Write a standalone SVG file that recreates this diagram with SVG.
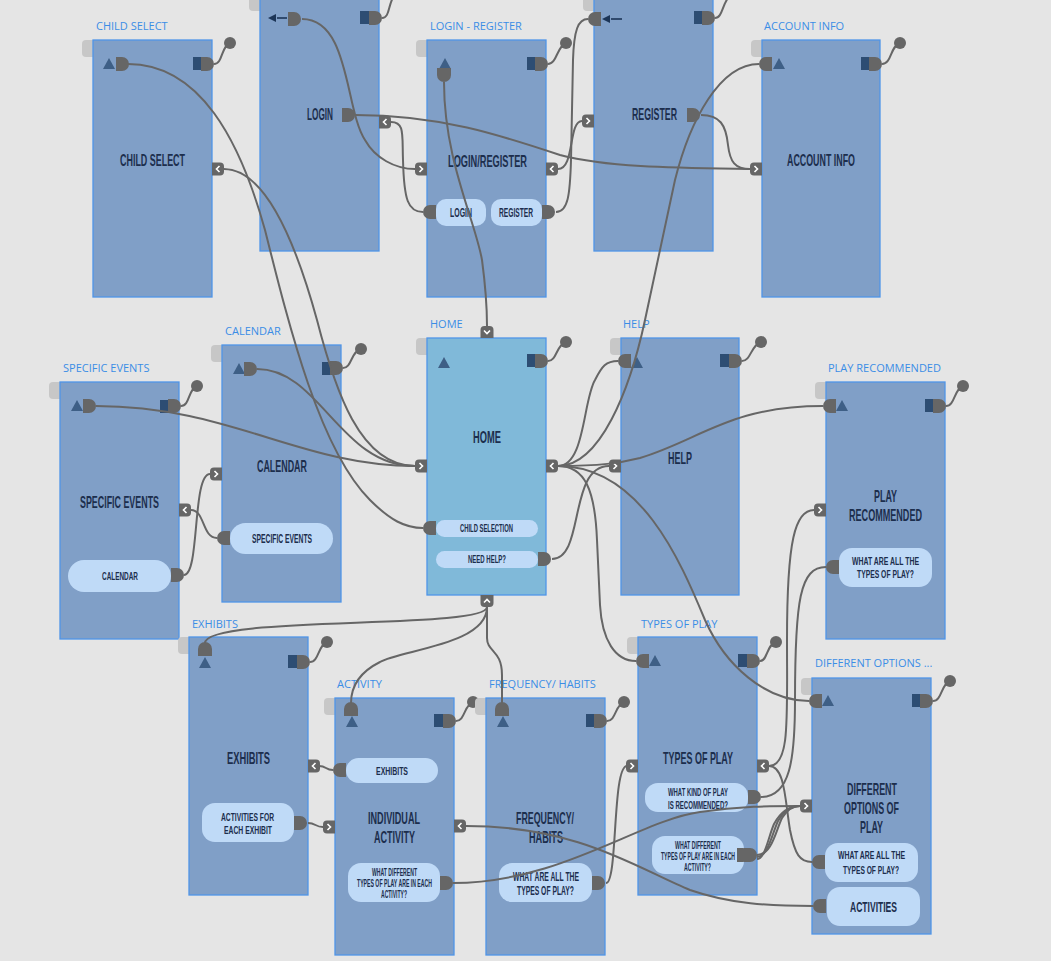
<svg xmlns="http://www.w3.org/2000/svg" xmlns:xlink="http://www.w3.org/1999/xlink" width="1051" height="961" viewBox="0 0 1051 961">
<style>
.nd{fill:#809fc7;stroke:#4f95e8;stroke-width:1.3}
.hm{fill:#80b9d9;stroke:#4f95e8;stroke-width:1.3}
.tab{fill:#c7c7c7}
.lbl{font-family:"Open Sans","Liberation Sans",sans-serif;font-size:11px;fill:#3b8de6}
.ttl{font-family:"Liberation Sans",Arial,sans-serif;font-weight:bold;font-size:16.5px;fill:#1c2e4d}
.bt{font-family:"Liberation Sans",Arial,sans-serif;font-weight:bold;fill:#1c2e4d}
.btn{fill:#bfdaf7}
.pt{fill:#666}
.tri{fill:#3e5f86}
.sq{fill:#2d4d73}
.w{fill:none;stroke:#666;stroke-width:2}
.wg{fill:none;stroke:#666;stroke-width:2}
.ar{fill:#1c3557}
.arl{stroke:#1c3557;stroke-width:1.6}
</style>
<defs>
<path id="pR" d="M0,0h6a7,7 0 0 1 0,14h-6z"/>
<path id="pL" d="M13,0h-6a7,7 0 0 0 0,14h6z"/>
<path id="pT" d="M0,14v-7a7,7 0 0 1 14,0v7z"/>
<path id="pB" d="M0,0h14v7a7,7 0 0 1 -14,0z"/>
<path id="tri" d="M0,11L6,0L12,11z"/>
<g id="inL"><path d="M12,0h-8a4,4 0 0 0 -4,4v5a4,4 0 0 0 4,4h8z" fill="#666"/><path d="M4.5,3.5l3,3l-3,3" stroke="#fff" fill="none" stroke-width="1.6"/></g>
<g id="inR"><path d="M0,0h8a4,4 0 0 1 4,4v5a4,4 0 0 1 -4,4h-8z" fill="#666"/><path d="M7.5,3.5l-3,3l3,3" stroke="#fff" fill="none" stroke-width="1.6"/></g>
<g id="inT"><path d="M0,12v-8a4,4 0 0 1 4,-4h5a4,4 0 0 1 4,4v8z" fill="#666"/><path d="M3.5,4.5l3,3l3,-3" stroke="#fff" fill="none" stroke-width="1.6"/></g>
<g id="inB"><path d="M0,0h13v8a4,4 0 0 1 -4,4h-5a4,4 0 0 1 -4,-4z" fill="#666"/><path d="M3.5,7.5l3,-3l3,3" stroke="#fff" fill="none" stroke-width="1.6"/></g>
</defs>
<rect width="1051" height="961" fill="#e5e5e5"/>

<g id="node-child-select">
<rect class="tab" x="82" y="40" width="16" height="17" rx="4"/>
<rect class="nd" x="93" y="40" width="119" height="257"/>
<text class="lbl" x="96" y="30">CHILD SELECT</text>
<use href="#tri" class="tri" x="103" y="58"/>
<use href="#pR" class="pt" x="116" y="57"/>
<rect class="sq" x="193" y="57" width="9" height="13"/>
<use href="#pR" class="pt" x="201" y="57"/>
<path class="wg" d="M214,64C223,64 221,46 230,43"/><circle class="pt" cx="230" cy="43" r="6"/>
<text class="ttl" x="120" y="166" textLength="65" lengthAdjust="spacingAndGlyphs">CHILD SELECT</text>
<use href="#inR" x="212" y="162.5"/>
</g>

<g id="node-login">
<rect class="tab" x="249" y="-6" width="16" height="17" rx="4"/>
<rect class="nd" x="260" y="-6" width="119" height="257"/>
<path class="ar" d="M268,18l8,-4v8z"/><path class="arl" d="M277,18H287"/>
<use href="#pR" class="pt" x="288" y="12"/>
<rect class="sq" x="360" y="11" width="9" height="13"/>
<use href="#pR" class="pt" x="369" y="11"/>
<path class="wg" d="M382,18C390,18 388,4 394,-4"/><circle class="pt" cx="396" cy="-8" r="6"/>
<text class="ttl" x="307" y="120" textLength="26" lengthAdjust="spacingAndGlyphs">LOGIN</text>
<use href="#pR" class="pt" x="342" y="108"/>
<use href="#inR" x="379" y="115.5"/>
</g>

<g id="node-login-register">
<rect class="tab" x="416" y="40" width="16" height="17" rx="4"/>
<rect class="nd" x="427" y="40" width="119" height="257"/>
<text class="lbl" x="430" y="30">LOGIN - REGISTER</text>
<use href="#tri" class="tri" x="439" y="58"/>
<use href="#pB" class="pt" x="437" y="68"/>
<rect class="sq" x="527" y="57" width="9" height="13"/>
<use href="#pR" class="pt" x="535" y="57"/>
<path class="wg" d="M548,64C557,64 557,46 566,43"/><circle class="pt" cx="566" cy="43" r="6"/>
<text class="ttl" x="448" y="167" textLength="79" lengthAdjust="spacingAndGlyphs">LOGIN/REGISTER</text>
<use href="#inL" x="415" y="162.5"/>
<use href="#inR" x="546" y="162.5"/>
<rect class="btn" x="436" y="199" width="50" height="27" rx="10"/>
<text class="bt" x="450" y="217" font-size="12" textLength="22" lengthAdjust="spacingAndGlyphs">LOGIN</text>
<use href="#pL" class="pt" x="423" y="205"/>
<rect class="btn" x="491" y="199" width="51" height="27" rx="10"/>
<text class="bt" x="499" y="217" font-size="12" textLength="34" lengthAdjust="spacingAndGlyphs">REGISTER</text>
<use href="#pR" class="pt" x="542" y="205"/>
</g>

<g id="node-register">
<rect class="tab" x="583" y="-6" width="16" height="17" rx="4"/>
<rect class="nd" x="594" y="-6" width="119" height="257"/>
<use href="#pL" class="pt" x="588" y="12"/>
<path class="ar" d="M602,19l8,-4v8z"/><path class="arl" d="M611,19H622"/>
<rect class="sq" x="694" y="11" width="9" height="13"/>
<use href="#pR" class="pt" x="702" y="11"/>
<path class="wg" d="M715,18C722,18 722,6 728,-2"/><circle class="pt" cx="731" cy="-7" r="6"/>
<text class="ttl" x="632" y="120" textLength="45" lengthAdjust="spacingAndGlyphs">REGISTER</text>
<use href="#pR" class="pt" x="687" y="108"/>
<use href="#inL" x="582" y="114.5"/>
</g>

<g id="node-account-info">
<rect class="tab" x="751" y="40" width="16" height="17" rx="4"/>
<rect class="nd" x="762" y="40" width="118" height="257"/>
<text class="lbl" x="764" y="30">ACCOUNT INFO</text>
<use href="#pL" class="pt" x="759" y="57"/>
<use href="#tri" class="tri" x="773" y="58"/>
<rect class="sq" x="861" y="57" width="9" height="13"/>
<use href="#pR" class="pt" x="869" y="57"/>
<path class="wg" d="M882,64C892,64 890,46 900,43"/><circle class="pt" cx="900" cy="43" r="6"/>
<text class="ttl" x="787" y="166" textLength="68" lengthAdjust="spacingAndGlyphs">ACCOUNT INFO</text>
<use href="#inL" x="750" y="162.5"/>
</g>

<g id="node-calendar">
<rect class="tab" x="211" y="345" width="16" height="17" rx="4"/>
<rect class="nd" x="222" y="345" width="119" height="257"/>
<text class="lbl" x="225" y="335">CALENDAR</text>
<use href="#tri" class="tri" x="233" y="363"/>
<use href="#pR" class="pt" x="244" y="362"/>
<rect class="sq" x="322" y="362" width="9" height="13"/>
<use href="#pR" class="pt" x="330" y="361"/>
<path class="wg" d="M343,368C352,368 351,351 361,349"/><circle class="pt" cx="361" cy="349" r="6"/>
<text class="ttl" x="257" y="472" textLength="50" lengthAdjust="spacingAndGlyphs">CALENDAR</text>
<use href="#inL" x="210" y="467.5"/>
<rect class="btn" x="230" y="523" width="103" height="31" rx="15.5"/>
<text class="bt" x="252" y="543" font-size="12" textLength="60" lengthAdjust="spacingAndGlyphs">SPECIFIC EVENTS</text>
<use href="#pL" class="pt" x="217" y="531"/>
</g>

<g id="node-specific-events">
<rect class="tab" x="49" y="382" width="16" height="17" rx="4"/>
<rect class="nd" x="60" y="382" width="119" height="257"/>
<text class="lbl" x="63" y="372">SPECIFIC EVENTS</text>
<use href="#tri" class="tri" x="71" y="400"/>
<use href="#pR" class="pt" x="83" y="399"/>
<rect class="sq" x="160" y="400" width="9" height="13"/>
<use href="#pR" class="pt" x="168" y="399"/>
<path class="wg" d="M181,406C190,406 188,389 197,386"/><circle class="pt" cx="197" cy="386" r="6"/>
<text class="ttl" x="80" y="508" textLength="79" lengthAdjust="spacingAndGlyphs">SPECIFIC EVENTS</text>
<use href="#inR" x="179" y="503.5"/>
<rect class="btn" x="68" y="560" width="103" height="32" rx="16"/>
<text class="bt" x="102" y="580" font-size="11.5" textLength="36" lengthAdjust="spacingAndGlyphs">CALENDAR</text>
<use href="#pR" class="pt" x="171" y="568"/>
</g>

<g id="node-home">
<rect class="tab" x="416" y="338" width="16" height="17" rx="4"/>
<rect class="hm" x="427" y="338" width="119" height="257"/>
<text class="lbl" x="430" y="328">HOME</text>
<use href="#tri" class="tri" x="438" y="357"/>
<rect class="sq" x="527" y="354" width="9" height="13"/>
<use href="#pR" class="pt" x="535" y="354"/>
<path class="wg" d="M548,361C557,361 556,345 566,342"/><circle class="pt" cx="566" cy="342" r="6"/>
<text class="ttl" x="473" y="443" textLength="28" lengthAdjust="spacingAndGlyphs">HOME</text>
<use href="#inT" x="480.5" y="326"/>
<use href="#inB" x="480.5" y="595"/>
<use href="#inL" x="415" y="459.5"/>
<use href="#inR" x="546" y="459.5"/>
<rect class="btn" x="436" y="520" width="102" height="17" rx="8.5"/>
<text class="bt" x="460" y="532" font-size="11" textLength="53" lengthAdjust="spacingAndGlyphs">CHILD SELECTION</text>
<use href="#pL" class="pt" x="423" y="521"/>
<rect class="btn" x="436" y="551" width="102" height="17" rx="8.5"/>
<text class="bt" x="468" y="563" font-size="11" textLength="38" lengthAdjust="spacingAndGlyphs">NEED HELP?</text>
<use href="#pR" class="pt" x="538" y="552"/>
</g>

<g id="node-help">
<rect class="tab" x="610" y="338" width="16" height="17" rx="4"/>
<rect class="nd" x="621" y="338" width="118" height="257"/>
<text class="lbl" x="623" y="328">HELP</text>
<use href="#pL" class="pt" x="618" y="354"/>
<use href="#tri" class="tri" x="631" y="357"/>
<rect class="sq" x="720" y="354" width="9" height="13"/>
<use href="#pR" class="pt" x="729" y="354"/>
<path class="wg" d="M742,361C751,361 751,345 761,342"/><circle class="pt" cx="761" cy="342" r="6"/>
<text class="ttl" x="668" y="464" textLength="24" lengthAdjust="spacingAndGlyphs">HELP</text>
<use href="#inL" x="609" y="459.5"/>
</g>

<g id="node-play-recommended">
<rect class="tab" x="815" y="382" width="16" height="17" rx="4"/>
<rect class="nd" x="826" y="382" width="119" height="257"/>
<text class="lbl" x="828" y="372">PLAY RECOMMENDED</text>
<use href="#pL" class="pt" x="823" y="399"/>
<use href="#tri" class="tri" x="836" y="400"/>
<rect class="sq" x="925" y="399" width="9" height="13"/>
<use href="#pR" class="pt" x="933" y="399"/>
<path class="wg" d="M946,406C955,406 954,389 963,386"/><circle class="pt" cx="963" cy="386" r="6"/>
<text class="ttl" x="874" y="502" textLength="23" lengthAdjust="spacingAndGlyphs">PLAY</text>
<text class="ttl" x="849" y="521" textLength="73" lengthAdjust="spacingAndGlyphs">RECOMMENDED</text>
<use href="#inL" x="814" y="503.5"/>
<rect class="btn" x="839" y="548" width="93" height="39" rx="13"/>
<text class="bt" x="852" y="565" font-size="11.5" textLength="67" lengthAdjust="spacingAndGlyphs">WHAT ARE ALL THE</text>
<text class="bt" x="857" y="578" font-size="11.5" textLength="57" lengthAdjust="spacingAndGlyphs">TYPES OF PLAY?</text>
<use href="#pL" class="pt" x="826" y="560"/>
</g>

<g id="node-exhibits">
<rect class="tab" x="178" y="637" width="16" height="17" rx="4"/>
<rect class="nd" x="189" y="637" width="119" height="258"/>
<text class="lbl" x="192" y="628">EXHIBITS</text>
<use href="#pT" class="pt" x="198" y="642"/>
<use href="#tri" class="tri" x="199" y="657"/>
<rect class="sq" x="288" y="655" width="9" height="13"/>
<use href="#pR" class="pt" x="297" y="655"/>
<path class="wg" d="M310,662C319,662 318,645 327,642"/><circle class="pt" cx="327" cy="642" r="6"/>
<text class="ttl" x="227" y="764" textLength="43" lengthAdjust="spacingAndGlyphs">EXHIBITS</text>
<use href="#inR" x="308" y="759.5"/>
<rect class="btn" x="202" y="803" width="92" height="39" rx="13"/>
<text class="bt" x="221" y="821" font-size="11.5" textLength="53" lengthAdjust="spacingAndGlyphs">ACTIVITIES FOR</text>
<text class="bt" x="224" y="834" font-size="11.5" textLength="48" lengthAdjust="spacingAndGlyphs">EACH EXHIBIT</text>
<use href="#pR" class="pt" x="294" y="816"/>
</g>

<g id="node-activity">
<rect class="tab" x="324" y="698" width="16" height="17" rx="4"/>
<rect class="nd" x="335" y="698" width="119" height="257"/>
<text class="lbl" x="337" y="688">ACTIVITY</text>
<use href="#pT" class="pt" x="344" y="702"/>
<use href="#tri" class="tri" x="346" y="716"/>
<rect class="sq" x="434" y="714" width="9" height="13"/>
<use href="#pR" class="pt" x="443" y="714"/>
<path class="wg" d="M456,721C465,721 464,705 473,702"/><circle class="pt" cx="473" cy="702" r="6"/>
<text class="ttl" x="368" y="824" textLength="52" lengthAdjust="spacingAndGlyphs">INDIVIDUAL</text>
<text class="ttl" x="374" y="843" textLength="41" lengthAdjust="spacingAndGlyphs">ACTIVITY</text>
<use href="#inL" x="323" y="820.5"/>
<use href="#inR" x="454" y="819.5"/>
<rect class="btn" x="346" y="758" width="92" height="25" rx="12.5"/>
<text class="bt" x="376" y="775" font-size="11.5" textLength="32" lengthAdjust="spacingAndGlyphs">EXHIBITS</text>
<use href="#pL" class="pt" x="333" y="763"/>
<rect class="btn" x="348" y="863" width="92" height="39" rx="13"/>
<text class="bt" x="372" y="876" font-size="10" textLength="45" lengthAdjust="spacingAndGlyphs">WHAT DIFFERENT</text>
<text class="bt" x="357" y="887" font-size="10" textLength="75" lengthAdjust="spacingAndGlyphs">TYPES OF PLAY ARE IN EACH</text>
<text class="bt" x="381" y="898" font-size="10" textLength="26" lengthAdjust="spacingAndGlyphs">ACTIVITY?</text>
<use href="#pR" class="pt" x="440" y="876"/>
</g>

<g id="node-frequency-habits">
<rect class="tab" x="475" y="698" width="16" height="17" rx="4"/>
<rect class="nd" x="486" y="698" width="119" height="257"/>
<text class="lbl" x="489" y="688">FREQUENCY/ HABITS</text>
<use href="#pT" class="pt" x="495" y="702"/>
<use href="#tri" class="tri" x="497" y="716"/>
<rect class="sq" x="586" y="714" width="9" height="13"/>
<use href="#pR" class="pt" x="594" y="714"/>
<path class="wg" d="M607,721C616,721 615,705 624,702"/><circle class="pt" cx="624" cy="702" r="6"/>
<text class="ttl" x="516" y="824" textLength="58" lengthAdjust="spacingAndGlyphs">FREQUENCY/</text>
<text class="ttl" x="529" y="843" textLength="34" lengthAdjust="spacingAndGlyphs">HABITS</text>
<rect class="btn" x="499" y="863" width="93" height="39" rx="13"/>
<text class="bt" x="513" y="881" font-size="12" textLength="66" lengthAdjust="spacingAndGlyphs">WHAT ARE ALL THE</text>
<text class="bt" x="517" y="895" font-size="12" textLength="57" lengthAdjust="spacingAndGlyphs">TYPES OF PLAY?</text>
<use href="#pR" class="pt" x="592" y="876"/>
</g>

<g id="node-types-of-play">
<rect class="tab" x="627" y="637" width="16" height="17" rx="4"/>
<rect class="nd" x="638" y="637" width="119" height="258"/>
<text class="lbl" x="641" y="628">TYPES OF PLAY</text>
<use href="#pL" class="pt" x="636" y="654"/>
<use href="#tri" class="tri" x="649" y="655"/>
<rect class="sq" x="738" y="654" width="9" height="13"/>
<use href="#pR" class="pt" x="747" y="654"/>
<path class="wg" d="M760,661C768,661 766,645 776,642"/><circle class="pt" cx="776" cy="642" r="6"/>
<text class="ttl" x="663" y="764" textLength="70" lengthAdjust="spacingAndGlyphs">TYPES OF PLAY</text>
<use href="#inL" x="626" y="759.5"/>
<use href="#inR" x="757" y="759.5"/>
<rect class="btn" x="645" y="783" width="103" height="29" rx="13"/>
<text class="bt" x="668" y="796" font-size="10.5" textLength="60" lengthAdjust="spacingAndGlyphs">WHAT KIND OF PLAY</text>
<text class="bt" x="668" y="809" font-size="10.5" textLength="60" lengthAdjust="spacingAndGlyphs">IS RECOMMENDED?</text>
<use href="#pR" class="pt" x="748" y="790"/>
<rect class="btn" x="652" y="836" width="92" height="38" rx="13"/>
<text class="bt" x="675" y="849" font-size="10" textLength="46" lengthAdjust="spacingAndGlyphs">WHAT DIFFERENT</text>
<text class="bt" x="661" y="860" font-size="10" textLength="74" lengthAdjust="spacingAndGlyphs">TYPES OF PLAY ARE IN EACH</text>
<text class="bt" x="684" y="871" font-size="10" textLength="27" lengthAdjust="spacingAndGlyphs">ACTIVITY?</text>
<use href="#pR" class="pt" x="737" y="848"/>
<use href="#pR" class="pt" x="744" y="848"/>
</g>

<g id="node-different-options">
<rect class="tab" x="801" y="678" width="16" height="17" rx="4"/>
<rect class="nd" x="812" y="678" width="119" height="256"/>
<text class="lbl" x="815" y="667">DIFFERENT OPTIONS ...</text>
<use href="#pL" class="pt" x="809" y="694"/>
<use href="#tri" class="tri" x="822" y="695"/>
<rect class="sq" x="912" y="694" width="9" height="13"/>
<use href="#pR" class="pt" x="920" y="694"/>
<path class="wg" d="M933,701C942,701 941,684 950,681"/><circle class="pt" cx="950" cy="681" r="6"/>
<text class="ttl" x="847" y="795" textLength="50" lengthAdjust="spacingAndGlyphs">DIFFERENT</text>
<text class="ttl" x="844" y="814" textLength="55" lengthAdjust="spacingAndGlyphs">OPTIONS OF</text>
<text class="ttl" x="860" y="833" textLength="23" lengthAdjust="spacingAndGlyphs">PLAY</text>
<use href="#inL" x="800" y="799.5"/>
<rect class="btn" x="825" y="843" width="93" height="39" rx="13"/>
<text class="bt" x="838" y="859" font-size="11.5" textLength="67" lengthAdjust="spacingAndGlyphs">WHAT ARE ALL THE</text>
<text class="bt" x="843" y="874" font-size="11.5" textLength="56" lengthAdjust="spacingAndGlyphs">TYPES OF PLAY?</text>
<use href="#pL" class="pt" x="812" y="855"/>
<rect class="btn" x="827" y="887" width="93" height="39" rx="13"/>
<text class="bt" x="850" y="912" font-size="15" textLength="47" lengthAdjust="spacingAndGlyphs">ACTIVITIES</text>
<use href="#pL" class="pt" x="813" y="899"/>
</g>

<g id="connectors">
<path class="w" d="M302,19C350,19 345,110 365,140C375,158 395,169 415,169"/>
<path class="w" d="M355,115C440,115 500,135 560,155C610,168 680,168 750,169"/>
<path class="w" d="M391,122C405,122 402,135 403,160C404,200 408,212 423,212"/>
<path class="w" d="M558,169C575,169 568,121 582,121"/>
<path class="w" d="M556,212C568,212 570,195 571,160L573,60C574,30 578,19 588,19"/>
<path class="w" d="M444,82C444,160 475,220 482,260C486,290 487,305 487,326"/>
<path class="w" d="M701,115C720,115 726,125 728,145C730,162 735,169 750,169"/>
<path class="w" d="M759,64C720,64 690,120 675,180L645,320C630,390 600,466 558,466"/>
<path class="w" d="M128,64C200,64 240,140 265,230C290,330 320,450 370,500C390,520 405,528 423,528"/>
<path class="w" d="M224,169C265,169 295,240 317,320C335,390 360,466 415,466"/>
<path class="w" d="M257,369C320,369 340,466 415,466"/>
<path class="w" d="M96,406C230,406 300,466 415,466"/>
<path class="w" d="M191,510C205,510 202,538 217,538"/>
<path class="w" d="M184,575C200,575 192,474 210,474"/>
<path class="w" d="M552,559C585,559 568,466 609,466"/>
<path class="w" d="M558,466C585,466 583,400 595,380C602,366 606,361 618,361"/>
<path class="w" d="M558,466C600,466 620,463 640,458C700,440 730,406 823,406"/>
<path class="w" d="M558,466C585,466 595,490 597,540L600,605C602,640 615,661 636,661"/>
<path class="w" d="M558,466C640,466 680,560 705,620C725,665 765,701 809,701"/>
<path class="w" d="M487,607C487,630 205,615 205,643"/>
<path class="w" d="M487,607C487,645 400,650 380,662C360,672 351,685 351,703"/>
<path class="w" d="M487,607L487,638C487,652 502,650 502,675L502,703"/>
<path class="w" d="M319,766C327,766 325,770 333,770"/>
<path class="w" d="M308,823C316,823 315,827 323,827"/>
<path class="w" d="M606,883C618,883 612,766 627,766"/>
<path class="w" d="M453,883C560,883 640,820 700,812C740,806 770,806 800,806"/>
<path class="w" d="M466,826C580,826 640,870 690,890C730,904 770,906 813,906"/>
<path class="w" d="M769,766C790,766 787,720 787,640C787,540 795,510 814,510"/>
<path class="w" d="M761,797C790,797 795,760 795,700C795,600 800,567 826,567"/>
<path class="w" d="M769,766C785,766 785,800 790,830C795,855 800,862 812,862"/>
<path class="w" d="M757,855C772,855 776,830 782,818C788,808 795,806 800,806"/>
<path class="w" d="M757,857C768,857 772,834 778,821C785,809 792,806 800,806"/>
<path class="w" d="M757,859C765,859 768,838 774,824C781,811 790,806 800,806"/>
</g>
</svg>
